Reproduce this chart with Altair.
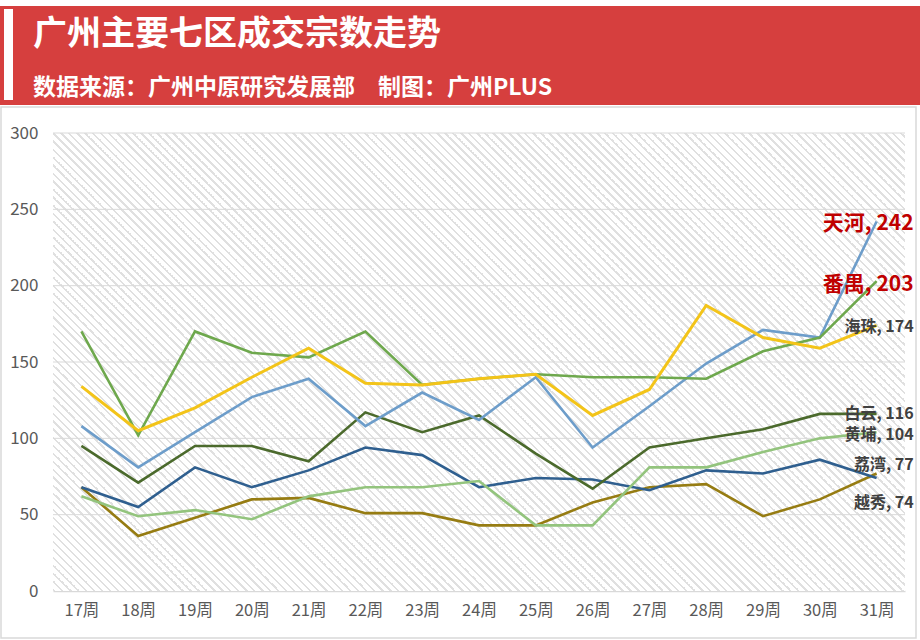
import altair as alt
import pandas as pd

weeks = ["17周", "18周", "19周", "20周", "21周", "22周", "23周", "24周",
         "25周", "26周", "27周", "28周", "29周", "30周", "31周"]

tianhe  = [108, 81, 104, 127, 139, 108, 130, 112, 140, 94, 121, 149, 171, 166, 242]
panyu   = [170, 102, 170, 156, 153, 170, 135, 139, 142, 140, 140, 139, 157, 166, 203]
haizhu  = [134, 105, 120, 140, 159, 136, 135, 139, 142, 115, 132, 187, 166, 159, 174]
baiyun  = [95, 71, 95, 95, 85, 117, 104, 115, 90, 67, 94, 100, 106, 116, 116]
huangpu = [62, 49, 53, 47, 62, 68, 68, 72, 43, 43, 81, 81, 91, 100, 104]
liwan   = [68, 36, 48, 60, 61, 51, 51, 43, 43, 58, 68, 70, 49, 60, 77]
yuexiu  = [68, 55, 81, 68, 79, 94, 89, 68, 74, 73, 66, 79, 77, 86, 74]

districts = ["荔湾", "越秀", "黄埔", "白云", "天河", "番禺", "海珠"]
series = {"天河": tianhe, "番禺": panyu, "海珠": haizhu, "白云": baiyun,
          "黄埔": huangpu, "荔湾": liwan, "越秀": yuexiu}
colors = {"荔湾": "#967c12", "越秀": "#2f5f8f", "黄埔": "#93c47d", "白云": "#4b6a2c",
          "天河": "#6d9dca", "番禺": "#6ea84d", "海珠": "#f3c419"}
y_ticks = [0, 50, 100, 150, 200, 250, 300]

title = "广州主要七区成交宗数走势"
subtitle = "数据来源：广州中原研究发展部　制图：广州PLUS"

FONT = "Noto Sans CJK SC"
W, H = 852, 458

rows = []
for d in districts:
    for w, v in zip(weeks, series[d]):
        rows.append({"week": w, "district": d, "value": v})
df = pd.DataFrame(rows)

x_enc = alt.X("week:N", sort=weeks, title=None,
              axis=alt.Axis(labelAngle=0, labelFontSize=16.5, labelColor="#595959",
                            labelFont=FONT, labelPadding=11, ticks=False,
                            domainColor="#d9d9d9", domainWidth=1.5))
y_scale = alt.Scale(domain=[0, 300], nice=False)

# hatched background: gradient stripes on a square box clipped to the plot,
# one stripe every 4 px horizontally so it stays aligned with the pixel grid
n_stripes = W // 4
stops = []
for i in range(n_stripes):
    a = i / n_stripes
    b = (i + 0.7) / n_stripes
    c = (i + 1) / n_stripes
    stops += [alt.GradientStop(offset=a, color="#ffffff"),
              alt.GradientStop(offset=b, color="#ffffff"),
              alt.GradientStop(offset=b, color="#e0e0e0"),
              alt.GradientStop(offset=c, color="#e0e0e0")]
hatch = alt.LinearGradient(gradient="linear", stops=stops, x1=0, y1=1, x2=1, y2=0)

one = pd.DataFrame({"k": [0]})
bg = alt.Chart(one).mark_rect(clip=True, color=hatch).encode(
    x=alt.value(0), x2=alt.value(W), y=alt.value(H / 2 - W / 2), y2=alt.value(H / 2 + W / 2))

grid = alt.Chart(pd.DataFrame({"v": y_ticks[1:]})).mark_rule(
    color="#d9d9d9", strokeWidth=1).encode(y=alt.Y("v:Q", scale=y_scale))

lines = []
for d in districts:
    lines.append(
        alt.Chart(df[df.district == d]).mark_line(
            color=colors[d], strokeWidth=3 if d == "海珠" else 2.6, strokeJoin="miter"
        ).encode(
            x=x_enc,
            y=alt.Y("value:Q", scale=y_scale, title=None,
                    axis=alt.Axis(values=y_ticks, grid=False, domain=False, ticks=False,
                                  labelFontSize=17, labelColor="#595959", labelFont=FONT,
                                  labelPadding=15)),
        )
    )

last = df[df.week == weeks[-1]].copy()
last["label"] = last.district + ", " + last.value.astype(str)

label_style = {
    "天河": dict(dy=2, size=21, color="#c00000"),
    "番禺": dict(dy=4, size=21, color="#c00000"),
    "海珠": dict(dy=2, size=16, color="#404040"),
    "白云": dict(dy=0, size=16, color="#404040"),
    "黄埔": dict(dy=3, size=16, color="#404040"),
    "荔湾": dict(dy=-8, size=16, color="#404040"),
    "越秀": dict(dy=25, size=16, color="#404040"),
}
labels = []
for d, st in label_style.items():
    labels.append(
        alt.Chart(last[last.district == d]).mark_text(
            align="right", baseline="middle", dx=37, dy=st["dy"], font=FONT,
            fontSize=st["size"], fontWeight="bold", color=st["color"]
        ).encode(x=alt.X("week:N", sort=weeks), y=alt.Y("value:Q", scale=y_scale),
                 text="label:N")
    )

# header band and frame
header = alt.Chart(one).mark_rect(color="#d63f3e").encode(
    x=alt.value(-53), x2=alt.value(867), y=alt.value(-127), y2=alt.value(-28))
bar = alt.Chart(one).mark_rect(color="#ffffff").encode(
    x=alt.value(-49), x2=alt.value(-40), y=alt.value(-124), y2=alt.value(-33))
frame = alt.Chart(one).mark_rect(fill="transparent", stroke="#d9d9d9", strokeWidth=1.5).encode(
    x=alt.value(-52), x2=alt.value(863), y=alt.value(-26), y2=alt.value(505))
title_t = alt.Chart(pd.DataFrame({"t": [title]})).mark_text(
    align="left", baseline="middle", font=FONT, fontSize=34, fontWeight="bold", color="#ffffff"
).encode(x=alt.value(-20), y=alt.value(-98), text="t:N")
sub_t = alt.Chart(pd.DataFrame({"t": [subtitle]})).mark_text(
    align="left", baseline="middle", font=FONT, fontSize=23, fontWeight="bold", color="#ffffff"
).encode(x=alt.value(-20), y=alt.value(-45), text="t:N")

chart = alt.layer(bg, grid, *lines, *labels, frame, header, bar, title_t, sub_t).properties(
    width=W, height=H,
    autosize=alt.AutoSizeParams(type="none"),
    padding={"left": 53, "top": 133, "right": 15, "bottom": 49},
    background="#ffffff",
).configure_view(stroke=None)

chart.save("out.html", embed_options={"renderer": "svg", "actions": False})
